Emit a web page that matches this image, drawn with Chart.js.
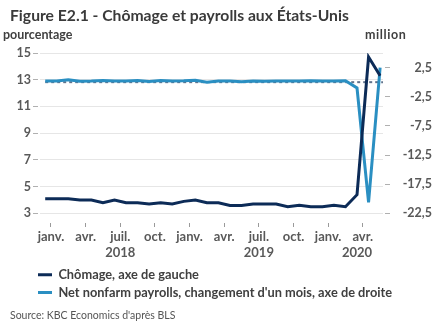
<!DOCTYPE html>
<html>
<head>
<meta charset="utf-8" />
<title>Chômage et payrolls aux États-Unis</title>
<script src="https://cdn.jsdelivr.net/npm/chart.js@4.4.0/dist/chart.umd.min.js"></script>
<style>
  body { margin: 0; background: #fff; }
  #cadre { position: relative; width: 432px; height: 334px; overflow: hidden; }
  #cadre canvas { position: absolute; left: 0; top: 0; }
  .txt { position: absolute; white-space: nowrap; line-height: 1; font-family: Lato, sans-serif; }
  #titre { left: 10px; top: 8px; font-size: 15.7px; font-weight: bold; color: #3a3a3a; }
  #gauche { left: 3px; top: 29px; font-size: 12.5px; font-weight: bold; color: #404040; }
  #droite { left: 365px; top: 29px; font-size: 12.5px; font-weight: bold; color: #404040; letter-spacing: 0.6px; }
  #source { left: 10px; top: 310px; font-size: 10.5px; color: #555; }
</style>
</head>
<body>
<div id="cadre">
  <canvas id="joonis" width="432" height="334"></canvas>
  <div class="txt" id="titre">Figure E2.1 - Chômage et payrolls aux États-Unis</div>
  <div class="txt" id="gauche">pourcentage</div>
  <div class="txt" id="droite">million</div>
  <div class="txt" id="source">Source: KBC Economics d'après BLS</div>
</div>
<script>
// données mensuelles, déc. 2017 - mai 2020
const mois = ['2017-12',
  '2018-01','2018-02','2018-03','2018-04','2018-05','2018-06','2018-07','2018-08','2018-09','2018-10','2018-11','2018-12',
  '2019-01','2019-02','2019-03','2019-04','2019-05','2019-06','2019-07','2019-08','2019-09','2019-10','2019-11','2019-12',
  '2020-01','2020-02','2020-03','2020-04','2020-05'];
const chomage = [4.1,
  4.1, 4.1, 4.0, 4.0, 3.8, 4.0, 3.8, 3.8, 3.7, 3.8, 3.7, 3.9,
  4.0, 3.8, 3.8, 3.6, 3.6, 3.7, 3.7, 3.7, 3.5, 3.6, 3.5, 3.5,
  3.6, 3.5, 4.4, 14.7, 13.3];
const payrolls = [0.18,
  0.18, 0.4, 0.16, 0.18, 0.27, 0.21, 0.18, 0.28, 0.11, 0.28, 0.2, 0.23,
  0.31, 0.0, 0.19, 0.22, 0.06, 0.18, 0.17, 0.22, 0.18, 0.19, 0.26, 0.18,
  0.21, 0.25, -1.0, -20.6, 2.5];
const nomsMois = {'01': 'janv.', '04': 'avr.', '07': 'juil.', '10': 'oct.'};
const annees = ['2018', '2019', '2020'];
const legende = ['Chômage, axe de gauche', "Net nonfarm payrolls, changement d'un mois, axe de droite"];

const bleuFonce = '#0c2b57';
const bleuClair = '#2a8fc2';
const gris = '#595959';

// ticks de l'axe x entre deux mois
const ticksX = [];
mois.forEach((m, i) => {
  const n = nomsMois[m.slice(5)];
  if (n) ticksX.push({ value: i - 0.5, label: n });
});
const xMin = -0.45, xMax = 29.25;

const pluginAnnees = {
  id: 'annees',
  afterDraw(chart) {
    const sx = chart.scales.x;
    const ctx = chart.ctx;
    ctx.save();
    ctx.font = 'bold 13px Lato';
    ctx.fillStyle = gris;
    ctx.textAlign = 'center';
    ctx.textBaseline = 'alphabetic';
    annees.forEach(a => {
      const idx = [];
      mois.forEach((m, i) => { if (m.startsWith(a)) idx.push(i); });
      const c = (idx[0] + idx[idx.length - 1]) / 2;
      ctx.fillText(a, sx.getPixelForValue(c), sx.top + 44);
    });
    ctx.restore();
  }
};

// la légende commence sous l'axe de gauche
const pluginLegende = {
  id: 'decalageLegende',
  afterLayout(chart) {
    const lg = chart.legend;
    lg.left = chart.chartArea.left - 7;
    lg.right = chart.width;
  }
};

const police = { family: 'Lato', size: 12.5, weight: 'bold' };

new Chart(document.getElementById('joonis'), {
  type: 'line',
  data: {
    datasets: [
      {
        label: legende[0],
        data: chomage.map((v, i) => ({ x: i, y: v })),
        borderColor: bleuFonce,
        backgroundColor: bleuFonce,
        borderWidth: 3,
        pointRadius: 0,
        yAxisID: 'y'
      },
      {
        label: legende[1],
        data: payrolls.map((v, i) => ({ x: i, y: v })),
        borderColor: bleuClair,
        backgroundColor: bleuClair,
        borderWidth: 3,
        pointRadius: 0,
        yAxisID: 'y1'
      },
      {
        label: 'zero',
        data: [{ x: 0, y: 0 }, { x: xMax, y: 0 }],
        borderColor: '#61738c',
        borderWidth: 2,
        borderDash: [3, 3],
        pointRadius: 0,
        yAxisID: 'y1'
      }
    ]
  },
  options: {
    responsive: false,
    animation: false,
    layout: { padding: { top: 53, bottom: 25, left: 0, right: 0 } },
    plugins: {
      tooltip: { enabled: false },
      legend: {
        position: 'bottom',
        align: 'start',
        labels: {
          boxWidth: 14,
          boxHeight: 3,
          padding: 5,
          color: '#404040',
          font: { family: 'Lato', size: 12.8, weight: 'bold' },
          generateLabels: chart => Chart.defaults.plugins.legend.labels.generateLabels(chart)
            .filter(l => l.datasetIndex < 2)
            .map(l => Object.assign(l, { lineWidth: 0, fillStyle: l.strokeStyle }))
        }
      }
    },
    scales: {
      x: {
        type: 'linear',
        min: xMin,
        max: xMax,
        afterBuildTicks: s => { s.ticks = ticksX.map(t => ({ value: t.value })); },
        afterFit: s => { s.height = 50; },
        border: { display: false },
        grid: {
          drawOnChartArea: false,
          tickLength: 14,
          tickColor: '#9a9a9a',
          tickBorderDash: [0, 10, 4, 100]
        },
        ticks: {
          autoSkip: false,
          maxRotation: 0,
          padding: 2,
          color: gris,
          font: { family: 'Lato', size: 13, weight: 'bold' },
          callback: v => {
            const t = ticksX.find(k => Math.abs(k.value - v) < 1e-6);
            return t ? t.label : '';
          }
        }
      },
      y: {
        position: 'left',
        min: 3,
        max: 15,
        afterFit: s => { s.width = 40; },
        border: { display: false },
        grid: {
          color: '#e6e6e6',
          tickLength: 7,
          tickColor: '#b0b0b0',
          tickBorderDash: [5, 100]
        },
        ticks: {
          stepSize: 1,
          padding: 2,
          color: gris,
          font: police,
          callback: v => (v % 2 === 1 ? v : '')
        }
      },
      y1: {
        position: 'right',
        min: -22.5,
        max: 5,
        afterFit: s => { s.width = 49; },
        border: { display: false },
        grid: {
          drawOnChartArea: false,
          tickLength: 7,
          tickColor: '#b0b0b0',
          tickBorderDash: [0, 2, 5, 100]
        },
        ticks: {
          stepSize: 2.5,
          padding: 8,
          crossAlign: 'far',
          color: gris,
          font: police,
          callback: v => {
            const k = (v + 22.5) / 5;
            if (v < 4 && Math.abs(k - Math.round(k)) < 1e-6) return v.toFixed(1).replace('.', ',');
            return '';
          }
        }
      }
    }
  },
  plugins: [pluginAnnees, pluginLegende]
});
</script>
</body>
</html>
